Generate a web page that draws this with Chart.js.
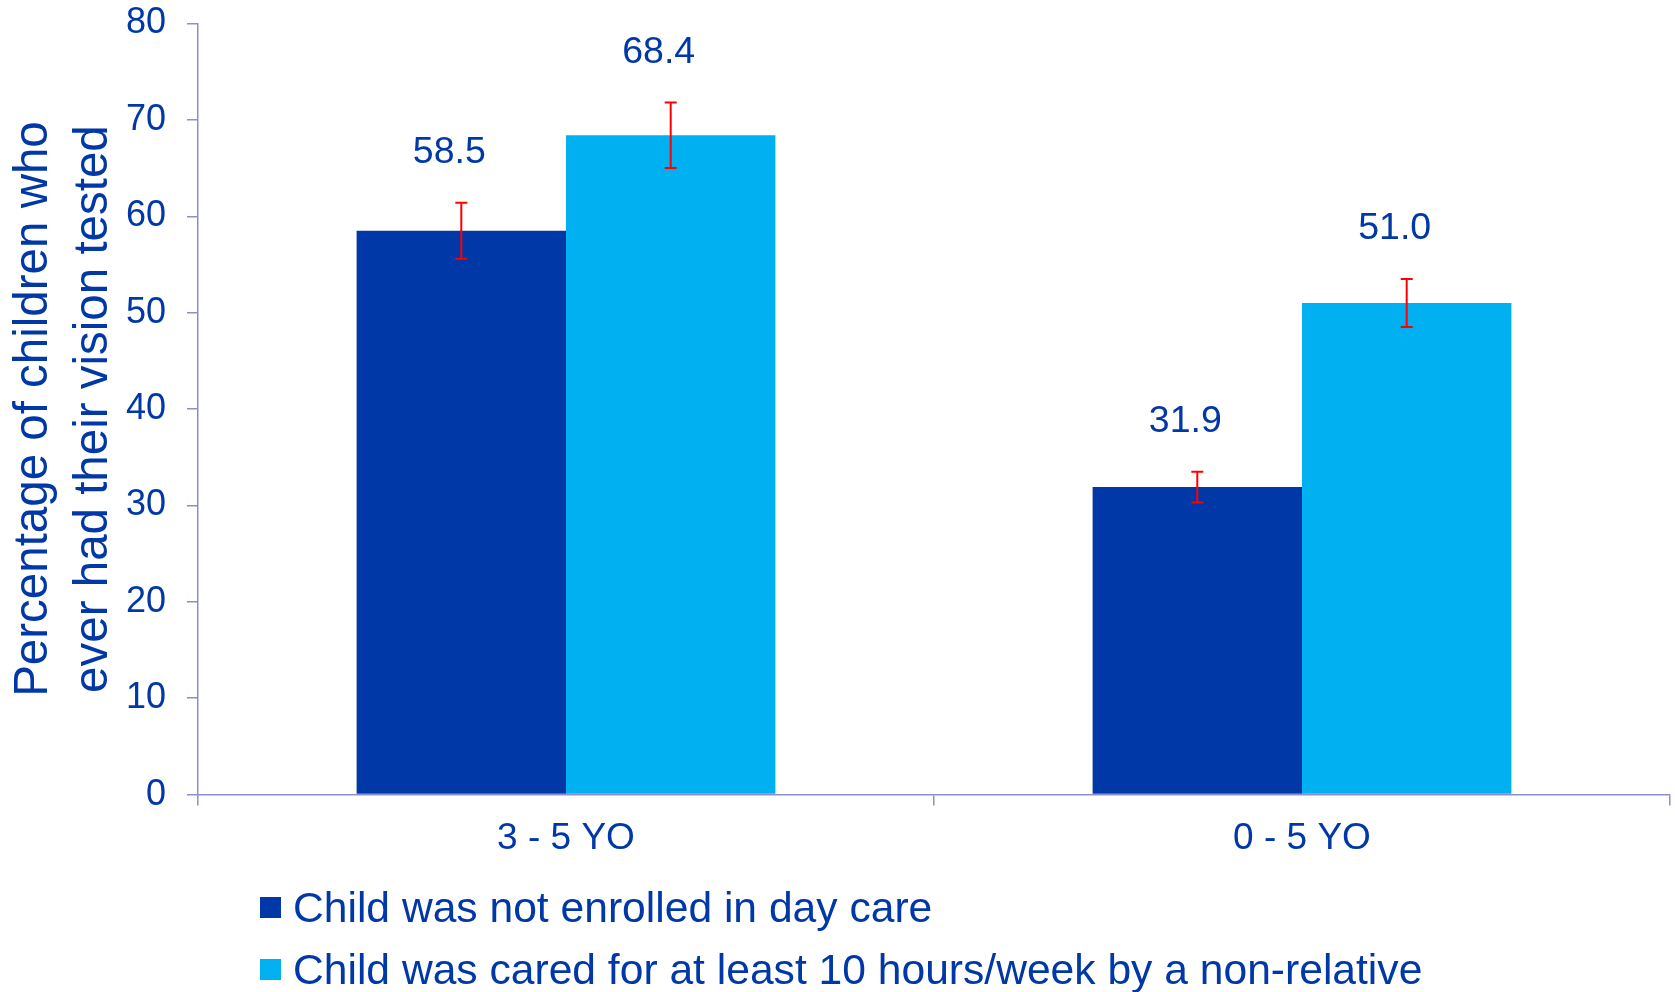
<!DOCTYPE html>
<html>
<head>
<meta charset="utf-8">
<script src="https://cdn.jsdelivr.net/npm/chart.js@4/dist/chart.umd.min.js"></script>
<style>
  html, body { margin: 0; padding: 0; background: #fff; }
  #wrap { position: relative; width: 1675px; height: 992px; }
  #legend { position: absolute; left: 260px; top: 876px; font: 42.6px "Liberation Sans", Arial, sans-serif; color: #0038A8; }
  .item { display: flex; align-items: center; height: 62px; white-space: nowrap; }
  .box { width: 21px; height: 21px; margin-right: 12px; flex: none; }
</style>
</head>
<body>
<div id="wrap">
  <canvas id="chart" width="1675" height="992"></canvas>
  <div id="legend"></div>
</div>
<script>
const categories = ["3 - 5 YO", "0 - 5 YO"];
const seriesNames = [
  "Child was not enrolled in day care",
  "Child was cared for at least 10 hours/week by a non-relative"
];
const notEnrolled = [58.5, 31.9];
const nonRelative = [68.4, 51.0];
const notEnrolledErr = [2.9, 1.6];
const nonRelativeErr = [3.4, 2.5];
const yTitle = ["Percentage of children who", "ever had their vision tested"];

const textColor = "#0038A8";
const axisColor = "#8C8FCB";
const font = "'Liberation Sans', Arial, sans-serif";

// error bars + value labels above them
const errorBars = {
  id: "errorBars",
  afterDatasetsDraw(chart) {
    const ctx = chart.ctx;
    const y = chart.scales.y;
    ctx.save();
    chart.data.datasets.forEach((ds, i) => {
      chart.getDatasetMeta(i).data.forEach((bar, j) => {
        const top = y.getPixelForValue(ds.data[j] + ds.errors[j]);
        const bottom = y.getPixelForValue(ds.data[j] - ds.errors[j]);
        const x = bar.x;
        ctx.strokeStyle = "#FF0000";
        ctx.lineWidth = 2;
        ctx.beginPath();
        ctx.moveTo(x, top); ctx.lineTo(x, bottom);
        ctx.moveTo(x - 6, top); ctx.lineTo(x + 6, top);
        ctx.moveTo(x - 6, bottom); ctx.lineTo(x + 6, bottom);
        ctx.stroke();

        ctx.fillStyle = textColor;
        ctx.font = "37.5px " + font;
        ctx.textAlign = "center";
        ctx.textBaseline = "middle";
        ctx.fillText(ds.data[j].toFixed(1), x - 12, top - 50);
      });
    });
    ctx.restore();
  }
};

const datasets = [
  { label: seriesNames[0], data: notEnrolled, errors: notEnrolledErr, backgroundColor: "#0038A8" },
  { label: seriesNames[1], data: nonRelative, errors: nonRelativeErr, backgroundColor: "#00B0F0" }
];

new Chart(document.getElementById("chart"), {
  type: "bar",
  data: { labels: categories, datasets },
  options: {
    responsive: false,
    animation: false,
    layout: { padding: { top: 23.5, right: 5, bottom: 120, left: 0 } },
    datasets: { bar: { categoryPercentage: 0.569, barPercentage: 1 } },
    plugins: { legend: { display: false }, tooltip: { enabled: false } },
    scales: {
      x: {
        border: { color: axisColor, width: 1.5 },
        grid: { drawOnChartArea: false, tickLength: 11, color: axisColor, lineWidth: 1.5 },
        ticks: { color: textColor, font: { family: font, size: 37 }, padding: 11 }
      },
      y: {
        min: 0,
        max: 80,
        afterFit(scale) {
          scale.width = 198;
          scale.paddingTop = 0;
          scale.paddingBottom = 0;
        },
        border: { color: axisColor, width: 1.5 },
        grid: { drawOnChartArea: false, tickLength: 11, color: axisColor, lineWidth: 1.5 },
        ticks: { stepSize: 10, color: textColor, font: { family: font, size: 36 }, padding: 21 },
        title: {
          display: true,
          text: yTitle,
          color: textColor,
          font: { family: font, size: 47.5, lineHeight: "60px" },
          padding: { top: 4, bottom: 0 }
        }
      }
    }
  },
  plugins: [errorBars]
});

document.getElementById("legend").innerHTML = datasets.map(ds =>
  `<div class="item"><span class="box" style="background:${ds.backgroundColor}"></span>${ds.label}</div>`
).join("");
</script>
</body>
</html>
